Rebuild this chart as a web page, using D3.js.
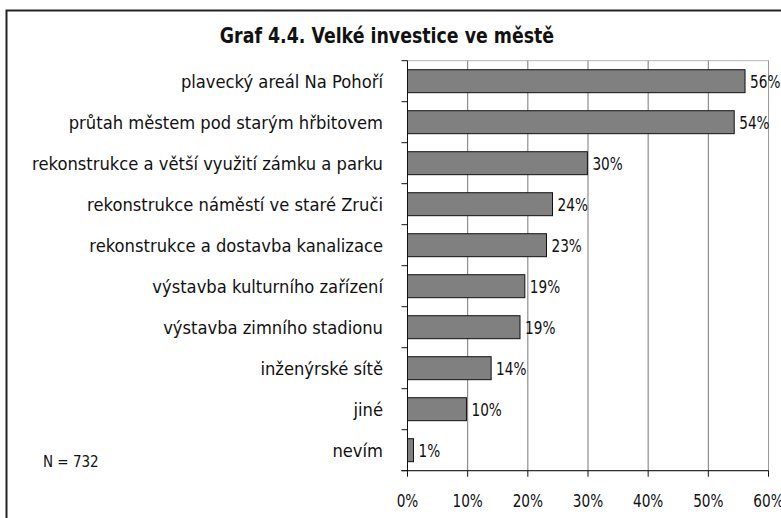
<!DOCTYPE html>
<html>
<head>
<meta charset="utf-8">
<script src="https://cdn.jsdelivr.net/npm/d3@7"></script>
<style>
  body { margin: 0; background: #fff; }
  text { font-family: "DejaVu Sans", sans-serif; fill: #111; }
</style>
</head>
<body>
<svg id="chart" width="781" height="518"></svg>
<script>
var title = "Graf 4.4. Velké investice ve městě";
var note = "N = 732";

var categories = [
  "plavecký areál Na Pohoří",
  "průtah městem pod starým hřbitovem",
  "rekonstrukce a větší využití zámku a parku",
  "rekonstrukce náměstí ve staré Zruči",
  "rekonstrukce a dostavba kanalizace",
  "výstavba kulturního zařízení",
  "výstavba zimního stadionu",
  "inženýrské sítě",
  "jiné",
  "nevím"
];
var values = [56.1, 54.3, 29.9, 24.1, 23.1, 19.5, 18.7, 13.9, 9.8, 1.0];
var valueLabels = ["56%", "54%", "30%", "24%", "23%", "19%", "19%", "14%", "10%", "1%"];
var xTicks = [0, 10, 20, 30, 40, 50, 60];

var svg = d3.select("#chart");
// note: "top" is taken by window.top, so plot edges get their own names
var plotL = 407.5, plotR = 768.5, plotT = 60.7, plotB = 470.7;

var x = d3.scaleLinear().domain([0, 60]).range([plotL, plotR]);
var y = d3.scaleBand().domain(categories).range([plotT, plotB])
  .paddingInner(0.44).paddingOuter(0.22);

// squeeze text horizontally, the original is a narrow face
function squeeze(sel, sx) {
  sel.attr("transform", function() {
    var tx = +this.getAttribute("x"), ty = +this.getAttribute("y");
    return "translate(" + tx + "," + ty + ") scale(" + sx + ",1) translate(" + (-tx) + "," + (-ty) + ")";
  });
}

// outer frame (runs off the right and bottom edge)
svg.append("path")
  .attr("d", "M6.5,530V10.5H790")
  .attr("fill", "none")
  .attr("stroke", "#222")
  .attr("stroke-width", 2);

svg.append("text")
  .attr("x", 387).attr("y", 43)
  .attr("text-anchor", "middle")
  .style("font-size", "22px")
  .style("font-weight", "bold")
  .text(title)
  .call(squeeze, 0.79);

// plot area border
svg.append("rect")
  .attr("x", plotL).attr("y", plotT)
  .attr("width", plotR - plotL).attr("height", plotB - plotT)
  .attr("fill", "none")
  .attr("stroke", "#b4b4b4");

// gridlines
svg.selectAll(".grid")
  .data(xTicks.slice(1, -1))
.enter().append("line")
  .attr("class", "grid")
  .attr("x1", function(d) { return x(d); })
  .attr("x2", function(d) { return x(d); })
  .attr("y1", plotT).attr("y2", plotB)
  .attr("stroke", "#7a7a7a");

svg.append("line")
  .attr("x1", plotR).attr("x2", plotR)
  .attr("y1", plotT).attr("y2", plotB)
  .attr("stroke", "#9a9a9a");

// bars
svg.selectAll(".bar")
  .data(values)
.enter().append("rect")
  .attr("class", "bar")
  .attr("x", x(0))
  .attr("y", function(d, i) { return y(categories[i]); })
  .attr("width", function(d) { return x(d) - x(0); })
  .attr("height", y.bandwidth())
  .attr("fill", "#808080")
  .attr("stroke", "#111")
  .attr("stroke-width", 1);

// y axis with ticks at band edges
var edges = categories.map(function(c) { return y(c) - y.step() * 0.22; }).concat([plotB]);
svg.append("line")
  .attr("x1", plotL).attr("x2", plotL)
  .attr("y1", plotT).attr("y2", plotB)
  .attr("stroke", "#111");
svg.selectAll(".ytick")
  .data(edges)
.enter().append("line")
  .attr("class", "ytick")
  .attr("x1", plotL - 6).attr("x2", plotL)
  .attr("y1", function(d) { return d; })
  .attr("y2", function(d) { return d; })
  .attr("stroke", "#111");

// x axis
svg.append("line")
  .attr("x1", plotL - 6).attr("x2", plotR)
  .attr("y1", plotB).attr("y2", plotB)
  .attr("stroke", "#111");
svg.selectAll(".xtick")
  .data(xTicks)
.enter().append("line")
  .attr("class", "xtick")
  .attr("x1", function(d) { return x(d); })
  .attr("x2", function(d) { return x(d); })
  .attr("y1", plotB).attr("y2", plotB + 6)
  .attr("stroke", "#111");
svg.selectAll(".xlab")
  .data(xTicks)
.enter().append("text")
  .attr("class", "xlab")
  .attr("x", function(d) { return x(d); })
  .attr("y", 507)
  .attr("text-anchor", "middle")
  .style("font-size", "18px")
  .text(function(d) { return d + "%"; })
  .call(squeeze, 0.76);

// category labels
svg.selectAll(".cat")
  .data(categories)
.enter().append("text")
  .attr("class", "cat")
  .attr("x", 383)
  .attr("y", function(d) { return y(d) + y.bandwidth() / 2 + 7; })
  .attr("text-anchor", "end")
  .style("font-size", "18px")
  .text(function(d) { return d; })
  .call(squeeze, 0.91);

// value labels
svg.selectAll(".val")
  .data(values)
.enter().append("text")
  .attr("class", "val")
  .attr("x", function(d) { return x(d) + 5; })
  .attr("y", function(d, i) { return y(categories[i]) + y.bandwidth() / 2 + 7; })
  .style("font-size", "18px")
  .text(function(d, i) { return valueLabels[i]; })
  .call(squeeze, 0.76);

svg.append("text")
  .attr("x", 43).attr("y", 467)
  .style("font-size", "15px")
  .text(note)
  .call(squeeze, 0.9);
</script>
</body>
</html>
